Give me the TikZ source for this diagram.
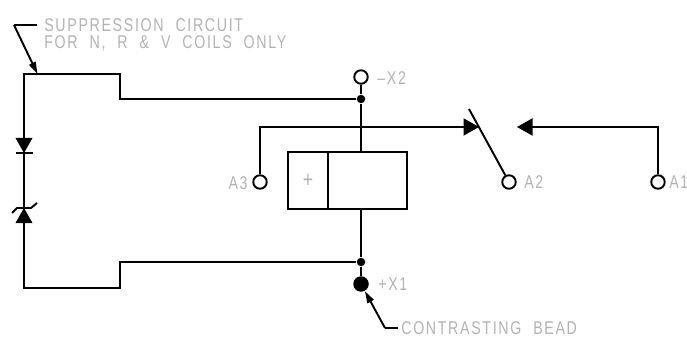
\documentclass[tikz,border=0pt]{standalone}
\usepackage{fontspec}
\setmainfont{Liberation Sans}
\newfontfamily\notefont[LetterSpace=9,FakeStretch=0.77]{Liberation Sans}
\newcommand{\notesize}{\notefont\fontsize{10.5}{10.5}\selectfont\spaceskip 6.8pt\relax}
\usetikzlibrary{arrows.meta,positioning}
\tikzset{
	wire/.style={line width=1.1pt},
	terminal/.style={circle,draw,fill=white,line width=1.1pt,inner sep=0pt,minimum size=0.27cm},
	junction/.style={circle,fill=black,inner sep=0pt,minimum size=0.17cm},
	bead/.style={circle,fill=black,inner sep=0pt,minimum size=0.31cm},
	coilbox/.style={rectangle,draw,line width=1.1pt,inner sep=0pt},
	note/.style={text=black!30,inner sep=0pt,anchor=west,font=\notesize},
	bigtip/.style={-{Triangle[length=3.1mm,width=3.4mm]}},
	leader/.style={line width=1.1pt,-{Triangle[length=2.4mm,width=1.4mm]}}
}
\begin{document}
\begin{tikzpicture}
	\useasboundingbox (0,0) rectangle (13.74,6.78);
	% terminals and junctions
	\node[terminal] (xtwo) at (7.22,5.24) {};
	\node[junction] (jtop) at (7.22,4.80) {};
	\node[junction] (jbot) at (7.22,1.54) {};
	\node[bead] (xone) at (7.22,1.10) {};
	\node[terminal] (athree) at (5.20,3.14) {};
	\node[terminal] (atwo) at (10.18,3.14) {};
	\node[terminal] (aone) at (13.16,3.14) {};
	% coil
	\node[coilbox,minimum width=2.38cm,minimum height=1.14cm] (coil) at (6.95,3.17) {};
	\node[coilbox,minimum width=0.8cm,minimum height=1.14cm,text=black!30] (plus) at (6.16,3.17) {\notefont\fontsize{13}{13}\selectfont +};
	\draw[wire] (xtwo) -- (jtop) -- (jtop |- coil.north);
	\draw[wire] (jtop |- coil.south) -- (jbot) -- (xone);
	% contact
	\coordinate (tipleft) at (9.58,4.24);
	\coordinate (tipright) at (10.34,4.24);
	\coordinate (blade) at (9.38,4.60);
	\draw[wire,bigtip] (athree) -- (athree |- tipleft) -- (tipleft);
	\draw[wire,bigtip] (aone) -- (aone |- tipright) -- (tipright);
	\draw[wire] (blade) -- (atwo);
	% suppression circuit
	\coordinate (ctl) at (0.48,5.30);
	\coordinate (cbl) at (0.48,1.02);
	\draw[wire] (jtop) -- (2.40,4.80) -- (2.40,5.30) -- (ctl) -- (cbl) -- (2.40,1.02) -- (2.40,1.54) -- (jbot);
	\fill (0.31,4.02) -- (0.65,4.02) -- (0.48,3.72) -- cycle;
	\draw[wire] (0.31,3.72) -- (0.65,3.72);
	\fill (0.31,2.32) -- (0.65,2.32) -- (0.48,2.62) -- cycle;
	\draw[wire] (0.24,2.52) -- (0.34,2.62) -- (0.62,2.62) -- (0.74,2.72);
	% notes
	\node[note] (suptop) at (0.88,6.28) {SUPPRESSION CIRCUIT};
	\node[note] (supbot) at (0.88,5.92) {FOR N, R \& V COILS ONLY};
	\node[note] (beadnote) at (8.02,0.22) {CONTRASTING BEAD};
	\node[note] (xtwonote) at (7.54,5.22) {–X2};
	\node[note] (xonenote) at (7.56,1.10) {+X1};
	\node[note,anchor=east] (athreenote) at (4.96,3.12) {A3};
	\node[note] (atwonote) at (10.48,3.14) {A2};
	\node[note] (aonenote) at (13.38,3.14) {A1};
	% leaders
	\coordinate (supknee) at (0.28,6.28);
	\coordinate (beadknee) at (7.70,0.22);
	\draw[line width=1.1pt] (0.74,6.28) -- (supknee);
	\draw[leader] (supknee) -- (0.75,5.30);
	\draw[line width=1.1pt] (7.96,0.22) -- (beadknee);
	\draw[leader] (beadknee) -- (xone);
\end{tikzpicture}
\end{document}
